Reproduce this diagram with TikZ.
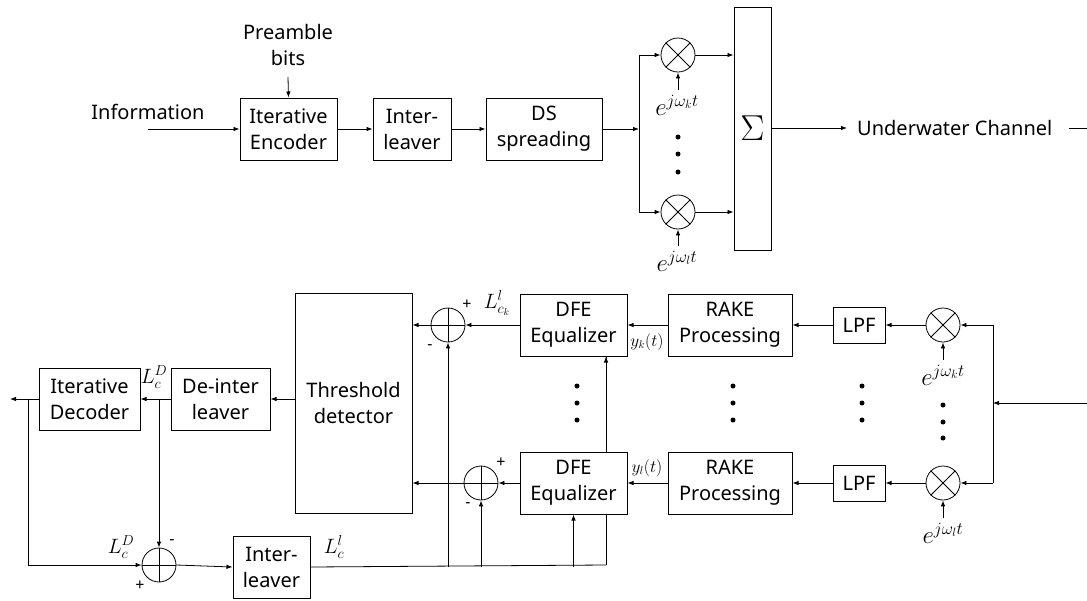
\documentclass[tikz,border=0pt]{standalone}
\usepackage{fontspec}
\setmainfont{Noto Sans}
\usetikzlibrary{arrows.meta,backgrounds}
\newcommand\txtsz{\fontsize{20}{26}\selectfont}
\newcommand\mlab{\fontsize{25}{28}\selectfont}
\newcommand\llab{\fontsize{20}{22}\selectfont}
\begin{document}
\begin{tikzpicture}[x=1pt,y=-1pt,
  every node/.style={font=\txtsz},
  blk/.style={draw,fill=white,line width=1pt,minimum height=62pt,inner sep=0pt,align=center},
  opcirc/.style={draw,fill=white,circle,line width=0.8pt,minimum size=34pt,inner sep=0pt},
  conn/.style={line width=0.8pt},
  arr/.style={line width=0.8pt,-{Latex[length=6pt,width=4.5pt]}},
  dot/.style={fill=black,circle,inner sep=0pt,minimum size=5pt},
  lbl/.style={inner sep=0pt}]
\useasboundingbox (0,0) rectangle (1087,600);

% ---------- top chain ----------
\node[blk,minimum width=97pt] (enc) at (288.5,129) {Iterative\\Encoder};
\node[blk,minimum width=78pt] (ilv) at (412,129) {Inter-\\leaver};
\node[blk,minimum width=116pt] (ds) at (544,129) {DS\\spreading};
\node[blk,minimum width=37pt,minimum height=243pt] (sig) at (752.5,128.5) {\fontsize{24}{26}\selectfont\scalebox{1.45}{$\Sigma$}};
\node[opcirc] (mx1) at (678,55) {};
\node[opcirc] (mx2) at (678,212) {};
\draw[conn] (mx1.north west)--(mx1.south east) (mx1.north east)--(mx1.south west);
\draw[conn] (mx2.north west)--(mx2.south east) (mx2.north east)--(mx2.south west);

\node[lbl,align=center] (pre) at (288,45) {Preamble\\bits};
\node[lbl] (info) at (148,112) {Information};
\coordinate (infoS) at (148,129);
\coordinate (preS) at (288,77);
\coordinate (splitT) at (639,129);
\coordinate (splitA) at (639,55);
\coordinate (splitB) at (639,212);
\node[lbl,anchor=west] (uw) at (857,128) {Underwater Channel};
\coordinate (uwA) at (847,128);
\coordinate (uwB) at (1069,128);
\coordinate (uwC) at (1087,128);

\node[lbl,font=\mlab] (ek1) at (677,105) {$e^{j\omega_k t}$};
\node[lbl,font=\mlab] (el1) at (677,261) {$e^{j\omega_l t}$};
\coordinate (ek1s) at (678,90);
\coordinate (el1s) at (678,246);

\draw[arr] (infoS) -- (enc.west);
\draw[arr] (preS) -- (enc.north);
\draw[arr] (enc) -- (ilv);
\draw[arr] (ilv) -- (ds);
\draw[arr] (ds.east) -- (splitT);
\draw[conn] (splitA) -- (splitB);
\draw[arr] (splitA) -- (mx1.west);
\draw[arr] (splitB) -- (mx2.west);
\draw[arr] (mx1.east) -- (mx1.east -| sig.west);
\draw[arr] (mx2.east) -- (mx2.east -| sig.west);
\draw[arr] (ek1s) -- (mx1.south);
\draw[arr] (el1s) -- (mx2.south);
\draw[arr] (sig.east |- uwA) -- (uwA);
\draw[conn] (uwB) -- (uwC);
\foreach \yy in {137,154,172} \node[dot] at (678,\yy) {};

% ---------- bottom chain ----------
\node[blk,minimum width=117pt,minimum height=220pt] (thr) at (353.5,403) {Threshold\\detector};
\node[blk,minimum width=101pt] (dec) at (89.5,399) {Iterative\\Decoder};
\node[blk,minimum width=99pt] (deint) at (220.5,399) {De-inter\\leaver};
\node[blk,minimum width=77pt] (ilv2) at (271.5,567) {Inter-\\leaver};
\node[blk,minimum width=107pt] (dfe1) at (573.5,325) {DFE\\Equalizer};
\node[blk,minimum width=107pt] (dfe2) at (573.5,483) {DFE\\Equalizer};
\node[blk,minimum width=124pt] (rake1) at (730,325) {RAKE\\Processing};
\node[blk,minimum width=124pt] (rake2) at (730,483) {RAKE\\Processing};
\node[blk,minimum width=52pt,minimum height=36pt] (lpf1) at (859,325) {LPF};
\node[blk,minimum width=52pt,minimum height=36pt] (lpf2) at (859,483) {LPF};
\node[opcirc] (mr1) at (943,325) {};
\node[opcirc] (mr2) at (943,483) {};
\draw[conn] (mr1.north west)--(mr1.south east) (mr1.north east)--(mr1.south west);
\draw[conn] (mr2.north west)--(mr2.south east) (mr2.north east)--(mr2.south west);
\node[opcirc] (ad1) at (448,325) {};
\node[opcirc] (ad2) at (481,483) {};
\node[opcirc] (ad3) at (159,565) {};
\foreach \a in {ad1,ad2,ad3} \draw[conn] (\a.north)--(\a.south) (\a.west)--(\a.east);

\coordinate (inR) at (1087,403);
\coordinate (inV) at (993,403);
\coordinate (vT) at (993,325);
\coordinate (vB) at (993,483);
\node[lbl,font=\mlab] (ek2) at (943,375) {$e^{j\omega_k t}$};
\node[lbl,font=\mlab] (el2) at (943,533) {$e^{j\omega_l t}$};
\coordinate (ek2s) at (943,360);
\coordinate (el2s) at (943,518);
\coordinate (decOut) at (10,399);
\coordinate (fbT) at (28,399);
\coordinate (fbB) at (28,565);
\coordinate (ldT) at (159,399);
\coordinate (busE) at (606,565);

\node[lbl,font=\llab] at (154,377) {$L_c^D$};
\node[lbl,font=\llab] at (121,547) {$L_c^D$};
\node[lbl,font=\llab] at (334,547) {$L_c^l$};
\node[lbl,font=\llab] at (497,303) {$L^l_{c_k}$};
\node[lbl,font=\fontsize{16}{18}\selectfont] at (647,342) {$y_k(t)$};
\node[lbl,font=\fontsize{16}{18}\selectfont] at (647,468) {$y_l(t)$};
\node[lbl,font=\fontsize{16}{18}\selectfont] at (172,542) {-};
\node[lbl,font=\fontsize{16}{18}\selectfont] at (140,586) {+};
\node[lbl,font=\fontsize{16}{18}\selectfont] at (467,305) {+};
\node[lbl,font=\fontsize{16}{18}\selectfont] at (430,347) {-};
\node[lbl,font=\fontsize{16}{18}\selectfont] at (501,463) {+};
\node[lbl,font=\fontsize{16}{18}\selectfont] at (468,505) {-};

\foreach \yy in {386,403,420} {
  \node[dot] at (577,\yy) {};
  \node[dot] at (733,\yy) {};
  \node[dot] at (862,\yy) {};
}
\foreach \yy in {405,422,438} \node[dot] at (943,\yy) {};

\begin{pgfonlayer}{background}
\draw[conn] (busE) -- (busE |- dfe1.south);
\end{pgfonlayer}
\draw[arr] (inR) -- (inV);
\draw[conn] (vT) -- (vB);
\draw[arr] (vT) -- (mr1.east);
\draw[arr] (vB) -- (mr2.east);
\draw[arr] (mr1.west) -- (lpf1.east);
\draw[arr] (mr2.west) -- (lpf2.east);
\draw[arr] (lpf1.west) -- (rake1.east);
\draw[arr] (lpf2.west) -- (rake2.east);
\draw[arr] (rake1.west) -- (dfe1.east);
\draw[arr] (rake2.west) -- (dfe2.east);
\draw[arr] (dfe1.west) -- (ad1.east);
\draw[arr] (dfe2.west) -- (ad2.east);
\draw[arr] (ad1.west) -- (ad1.west -| thr.east);
\draw[arr] (ad2.west) -- (ad2.west -| thr.east);
\draw[arr] (ek2s) -- (mr1.south);
\draw[arr] (el2s) -- (mr2.south);
\draw[arr] (deint.east -| thr.west) -- (deint.east);
\draw[arr] (deint.west) -- (dec.east);
\draw[arr] (dec.west) -- (decOut);
\draw[conn] (fbT) -- (fbB);
\draw[arr] (fbB) -- (ad3.west);
\draw[arr] (ldT) -- (ad3.north);
\draw[arr] (ad3.east) -- (ilv2.west);
\draw[conn] (ilv2.east) -- (busE);
\draw[arr] (ilv2.east -| ad1.south) -- (ad1.south);
\draw[arr] (ilv2.east -| ad2.south) -- (ad2.south);
\draw[arr] (ilv2.east -| dfe2.south) -- (dfe2.south);
\draw[arr] (busE |- dfe2.north) -- (busE |- dfe1.south);
\end{tikzpicture}
\end{document}
